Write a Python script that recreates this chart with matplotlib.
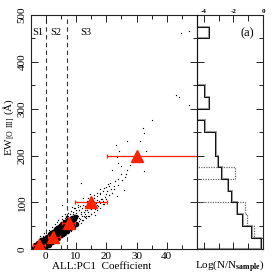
import matplotlib
matplotlib.use("Agg")
import matplotlib.pyplot as plt
from matplotlib.ticker import MultipleLocator, NullFormatter, FixedLocator, FixedFormatter

plt.rcParams['font.family'] = ['Liberation Serif', 'DejaVu Serif']
plt.rcParams['mathtext.fontset'] = 'custom'
plt.rcParams['mathtext.rm'] = 'Liberation Serif'
plt.rcParams['mathtext.bf'] = 'Liberation Serif:bold'

# ---------------- data ----------------
# dense core of the object cloud (PC1 coefficient, EW[O III])
core_pc1 = [-4.3, -4.0, -3.8, -3.6, -3.4, -3.2, -3.0, -3.0, -2.8, -2.6, -2.5, -2.3, -2.1, -2.0,
            -1.8, -1.6, -1.5, -1.3, -1.1, -1.0, -0.8, -0.6, -0.5, -0.3, 0.0, 0.0, 0.2, 0.4,
            0.6, 0.8, 1.0, 1.2, 1.4, 1.6, 1.8, 2.0, 2.2, 2.4, 2.6, 2.8, 3.0, 3.2, 3.4, 3.6,
            3.8, 4.0, 4.2, 4.4, 4.6, 4.8, 5.0, 5.2, 5.4, 5.6, 5.8, 6.0, 6.2, 6.4, 6.6, 6.8,
            7.0, 7.3, 7.6, 8.0, 8.3, 8.7, 9.1,
            -3.5, -2.5, -1.5, -0.5, 0.5, 1.5, 2.5, 3.5, 4.5, 5.5, 6.5, 7.5, 8.5, 9.5,
            -2.0, -1.0, 0.0, 1.0, 2.0, 3.0, 4.0, 5.0, 6.0, 7.0, 8.0, 9.0, 10.0]
core_ew = [1, 3, 1, 5, 3, 6, 2, 8, 5, 9, 4, 7, 11, 6,
           9, 13, 7, 11, 15, 9, 13, 17, 10, 15, 12, 18, 21, 15,
           19, 23, 17, 21, 26, 19, 24, 28, 22, 27, 31, 24, 29, 34, 27, 32,
           37, 30, 35, 40, 33, 38, 43, 36, 41, 46, 39, 44, 49, 42, 47, 52,
           45, 50, 55, 52, 57, 56, 62,
           10, 14, 19, 23, 27, 32, 37, 43, 48, 53, 58, 63, 66, 68,
           0.5, 3, 6, 10, 15, 20, 25, 30, 35, 40, 45, 50, 55]

# sparse individual objects
pts_pc1 = [-3.5, -2.8, -2.2, -1.5, -0.8, -2.5, -1.0, 0.5, 1.5, 2.5, 3.5, 4.5, 5.5, 6.5, 7.5,
           0.5, 1.2, 2.0, 2.8, 3.5, 4.2, 5.0, 5.8, 6.5, 7.2, 1.0, 3.0, 4.0, 6.0, 7.0, 8.0,
           9.0, 8.5, 9.5, 10.0, -1.8, -0.2, 1.8, 0.8, 4.8,
           8.5, 9.0, 9.5, 10.0, 10.5, 11.0, 11.5, 12.0, 12.5, 13.0, 13.5, 14.0, 14.5, 15.0,
           15.5, 16.0, 16.5, 17.0, 17.5, 18.0, 18.5, 19.0, 19.5, 20.0, 21.0, 22.0,
           10.0, 11.0, 12.0, 13.0, 14.0, 15.0, 16.0, 17.0, 18.0, 19.0, 20.0, 21.0,
           11.0, 12.0, 13.0, 14.0, 15.0, 16.0, 17.0, 18.0, 9.0, 8.0, 7.0, 10.8, 12.6, 13.8,
           16.4, 17.8, 19.2, 11.7, 5.2, 9.7, 14.6, 16.9,
           20.5, 21.5, 22.5, 23.0, 23.5, 24.0, 24.3, 23.5, 24.0, 24.8, 25.0, 26.0, 26.5,
           27.0, 28.0, 32.6, 29.0, 33.0, 31.0, 32.0, 32.6, 35.0, 23.2, 27.0, 25.5, 22.0,
           43.0, 43.9, 47.4, 44.6, 47.4,
           5.5, 6.2, 6.8, 7.5, 8.2, 8.8, 9.3, 9.8, 10.3, 10.7, 11.2, 11.8, 12.3, 12.8, 13.2,
           13.7, 14.2, 14.8, 15.3, 15.8, 16.3, 16.8, 17.3, 17.8, 18.3, 18.8, 19.3, 19.8, 20.4,
           21.3, 22.4, 23.8, 25.2, 26.2, 6.0, 7.2, 8.4, 9.6, 10.6, 11.6, 12.4, 13.4, 14.4,
           2.2, 3.2, 4.0, 1.0, -0.5, -2.0, 10.2, 12.2, 8.6, -3.0, -1.0, 0.0, 1.5, 3.8, 5.3,
           6.6, 8.9, 9.9, 11.4]
pts_ew = [12, 18, 22, 24, 28, 0.5, 2, 5, 9, 13, 18, 22, 27, 31, 36,
          30, 36, 40, 44, 50, 55, 58, 62, 66, 70, 33, 46, 48, 58, 62, 66,
          72, 45, 50, 58, 19, 25, 33, 27, 52,
          62, 58, 66, 63, 70, 67, 75, 72, 79, 76, 84, 80, 88, 85,
          93, 90, 98, 95, 102, 99, 107, 104, 112, 108, 116, 121,
          78, 84, 88, 92, 98, 104, 110, 114, 120, 125, 132, 136,
          60, 63, 68, 72, 76, 80, 84, 88, 80, 75, 72, 95, 70, 110,
          74, 128, 96, 141, 95, 88, 118, 120,
          140, 128, 135, 145, 113, 150, 209, 197, 185, 178, 160, 127, 161,
          170, 180, 166, 190, 210, 230, 259, 249, 275, 222, 230, 200, 170,
          330, 324, 307, 462, 466,
          70, 75, 68, 78, 82, 56, 88, 61, 74, 90, 64, 79, 95, 83, 72,
          102, 88, 76, 97, 115, 86, 105, 92, 118, 108, 96, 130, 117, 124,
          142, 128, 138, 148, 155, 28, 35, 40, 46, 52, 57, 62, 66, 70,
          48, 55, 62, 42, 35, 28, 100, 110, 90, 15, 20, 30, 40, 58, 64,
          72, 76, 84, 92]

# composite points (red triangles) with PC1 ranges
tri_pc1 = [-2.2, 2.4, 7.6, 15.0, 30.2]
tri_ew = [9, 26, 57, 100, 198]
tri_err_lo = [2.0, 1.8, 2.3, 5.5, 10.0]
tri_err_hi = [1.9, 2.2, 1.9, 5.2, 25.0]

# sample boundaries
bounds = [0, 7]
seg_labels = ["S1", "S2", "S3"]
seg_label_pc1 = [-2.6, 3.3, 13.2]

# histograms: EW bins of 25, log(N/N_sample); None = empty bin
hist_edges = list(range(0, 525, 25))
hist_all = [-0.15, -0.82, -1.42, -1.78, -2.16, -2.38, -2.83, -3.05, -3.21, -3.21,
            -3.95, None, -3.63, -3.95, None, None, None, None, -3.63, None]
hist_all_grey = [-0.12, -0.77, -1.38, -1.74, -2.12, -2.36, -2.80, -3.03, -3.19, -3.19,
                 -3.93, None, -3.61, -3.93, None, None, None, None, -3.61, None]
hist_sub = [-0.04, -0.60, -1.11, -1.20, None, None, -1.87, None, None, None,
            None, None, None, None, None, None, None, None, None, None]

# ---------------- figure ----------------
fig = plt.figure(figsize=(2.79, 2.79), dpi=100)
ax = fig.add_axes([0.110, 0.1065, 0.596, 0.840])
hx = fig.add_axes([0.706, 0.1065, 0.2376, 0.840])

for a in (ax, hx):
    for s in a.spines.values():
        s.set_linewidth(0.8)
        s.set_color('#222222')

ax.scatter(core_pc1, core_ew, s=16, c='black', linewidths=0, zorder=2)
ax.scatter(pts_pc1, pts_ew, s=0.9, c='black', linewidths=0, zorder=2)

for b in bounds:
    ax.axvline(b, color='#333333', lw=0.8, ls=(0, (4, 3)), zorder=1)
for lab, xp in zip(seg_labels, seg_label_pc1):
    ax.text(xp, 463, lab, ha='center', va='center', fontsize=7.5)

ax.errorbar(tri_pc1, tri_ew, xerr=[tri_err_lo, tri_err_hi], fmt='^', color='#ff2200',
            ms=8.5, mec='#ff2200', elinewidth=0.9, capsize=1.5, capthick=0.9, zorder=3)

ax.set_xlim(-5, 50)
ax.set_ylim(0, 500)
ax.xaxis.set_major_locator(MultipleLocator(10))
ax.xaxis.set_minor_locator(MultipleLocator(5))
ax.yaxis.set_major_locator(MultipleLocator(100))
ax.yaxis.set_minor_locator(MultipleLocator(50))
ax.set_xticks([0, 10, 20, 30, 40])
ax.tick_params(which='both', direction='in', top=True, right=True, labelsize=8,
               width=0.7, color='#222222')
ax.tick_params(which='major', length=5)
ax.tick_params(which='minor', length=3)
ax.tick_params(axis='x', pad=2)
ax.tick_params(axis='y', pad=3)
for t in ax.get_yticklabels():
    t.set_rotation(90)
    t.set_va('center')
ax.text(-0.13, 0.52, r'EW$_{\rm [O\ III]}$ (Å)', rotation=90, transform=ax.transAxes,
        ha='center', va='center', fontsize=8)
ax.text(0.426, -0.075, 'ALL:PC1  Coefficient', transform=ax.transAxes,
        ha='center', va='center', fontsize=8)

# histogram panel
xmin_h = -4.45
def fill_empty(v):
    return [xmin_h if x is None else x for x in v]

hx.stairs(fill_empty(hist_all_grey), hist_edges, orientation='horizontal', baseline=xmin_h,
          color='#9a9a9a', lw=1.5, zorder=1)
hx.stairs(fill_empty(hist_sub), hist_edges, orientation='horizontal', baseline=xmin_h,
          color='#666666', lw=0.9, ls=(0, (1, 1)), zorder=2)
hx.stairs(fill_empty(hist_all), hist_edges, orientation='horizontal', baseline=xmin_h,
          color='#111111', lw=0.7, zorder=3)

hx.set_xlim(xmin_h, 0)
hx.set_ylim(0, 500)
hx.xaxis.set_major_locator(FixedLocator([-4, -2, 0]))
hx.xaxis.set_major_formatter(FixedFormatter(['-4', '-2', '0']))
hx.xaxis.set_minor_locator(FixedLocator([-3, -1]))
hx.yaxis.set_major_locator(MultipleLocator(100))
hx.yaxis.set_minor_locator(MultipleLocator(50))
hx.yaxis.set_major_formatter(NullFormatter())
hx.tick_params(which='both', direction='in', top=True, right=True, left=True, bottom=True,
               labeltop=True, labelbottom=False, labelsize=5, width=0.7, color='#222222')
hx.tick_params(which='major', length=5)
hx.tick_params(which='minor', length=3)
hx.tick_params(axis='x', which='minor', length=4)
hx.tick_params(axis='x', pad=1)
for t in hx.get_xticklabels():
    t.set_fontweight('bold')
hx.text(0.5, -0.075, r'Log(N/N$_{\mathbf{sample}}$)', transform=hx.transAxes,
        ha='center', va='center', fontsize=8)
hx.text(0.76, 0.923, '(a)', transform=hx.transAxes, ha='center', va='center', fontsize=9)

fig.savefig('out.png', dpi=100)
